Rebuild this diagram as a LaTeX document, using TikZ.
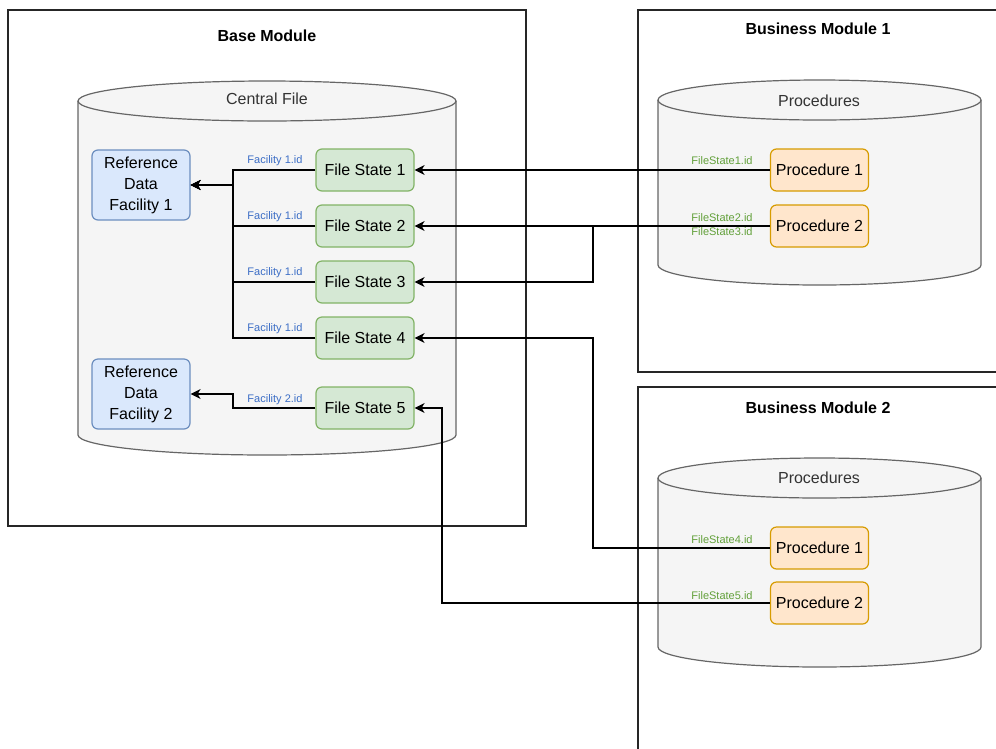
\documentclass[tikz,border=0pt]{standalone}
\usepackage{fontspec}
\setmainfont{Liberation Sans}
\usetikzlibrary{arrows.meta}
\definecolor{cylfill}{HTML}{F5F5F5}
\definecolor{cylline}{HTML}{666666}
\definecolor{bluefill}{HTML}{DAE8FC}
\definecolor{blueline}{HTML}{6C8EBF}
\definecolor{greenfill}{HTML}{D5E8D4}
\definecolor{greenline}{HTML}{82B366}
\definecolor{orangefill}{HTML}{FFE6CC}
\definecolor{orangeline}{HTML}{D79B00}
\definecolor{bluetxt}{HTML}{3C6EC6}
\definecolor{greentxt}{HTML}{62A03A}
\newcommand{\drawcyl}[5]{% x1 x2 ytop ybottom ry
  \pgfmathsetmacro{\cylrx}{(#2-#1)/2}
  \path[cyl] (#1,#3) arc[start angle=180,end angle=360,x radius=\cylrx,y radius=#5]
     -- (#2,#4) arc[start angle=0,end angle=180,x radius=\cylrx,y radius=#5] -- cycle;
  \draw[cylline,line width=1.2] (#1,#3) arc[start angle=180,end angle=0,x radius=\cylrx,y radius=#5];
}
\tikzset{
  module/.style={draw=black!85,line width=1.4,fill=white},
  cyl/.style={draw=cylline,fill=cylfill,line width=1.2},
  title/.style={font=\fontsize{16}{19}\selectfont\bfseries},
  cyltxt/.style={font=\fontsize{16}{19}\selectfont,text=black!80},
  basebox/.style={rounded corners=6,line width=1.2,minimum width=98,minimum height=42,
     inner sep=0,align=center,font=\fontsize{16}{21}\selectfont},
  refbox/.style={basebox,draw=blueline,fill=bluefill,minimum height=70},
  fsbox/.style={basebox,draw=greenline,fill=greenfill},
  procbox/.style={basebox,draw=orangeline,fill=orangefill},
  arr/.style={line width=1.4,-{Stealth[length=10,width=10,inset=3]}},
  flab/.style={font=\fontsize{11}{13}\selectfont,text=bluetxt,inner sep=0},
  glab/.style={font=\fontsize{11}{13}\selectfont,text=greentxt,inner sep=0},
}
\begin{document}
\begin{tikzpicture}[x=1pt,y=-1pt]
\useasboundingbox (0,0) rectangle (996,748);
\clip (0,0) rectangle (996,748);
\fill[white] (0,0) rectangle (996,748);
% modules
\draw[module] (8,10) rectangle (526,526);
\draw[module] (638,10) rectangle (1010,372);
\draw[module] (638,387) rectangle (1010,760);
\node[title] (tbase) at (267,36) {Base Module};
\node[title] (tbm1) at (818,29) {Business Module 1};
\node[title] (tbm2) at (818,408) {Business Module 2};
% cylinders
\drawcyl{78}{456}{101}{435}{20}
\drawcyl{658}{981}{100}{265}{20}
\drawcyl{658}{981}{478}{647}{20}
\node[cyltxt] (tcf) at (267,99) {Central File};
\node[cyltxt] (tp1) at (819,101) {Procedures};
\node[cyltxt] (tp2) at (819,478) {Procedures};
% nodes
\node[refbox] (rdf1) at (141,185) {Reference\\Data\\Facility 1};
\node[refbox] (rdf2) at (141,394) {Reference\\Data\\Facility 2};
\node[fsbox] (fs1) at (365,170) {File State 1};
\node[fsbox] (fs2) at (365,226) {File State 2};
\node[fsbox] (fs3) at (365,282) {File State 3};
\node[fsbox] (fs4) at (365,338) {File State 4};
\node[fsbox] (fs5) at (365,408) {File State 5};
\node[procbox] (p1) at (819.5,170) {Procedure 1};
\node[procbox] (p2) at (819.5,226) {Procedure 2};
\node[procbox] (q1) at (819.5,548) {Procedure 1};
\node[procbox] (q2) at (819.5,603) {Procedure 2};
% junctions
\coordinate (trunk1) at (233,185);
\coordinate (trunk2) at (233,394);
\coordinate (j1) at (593,250);
\coordinate (j2) at (593,440);
\coordinate (j3) at (442,500);
% edges to reference data
\draw[arr] (fs1.west) -| (trunk1) -- (rdf1.east);
\draw[arr] (fs2.west) -| (trunk1) -- (rdf1.east);
\draw[arr] (fs3.west) -| (trunk1) -- (rdf1.east);
\draw[arr] (fs4.west) -| (trunk1) -- (rdf1.east);
\draw[arr] (fs5.west) -| (trunk2) -- (rdf2.east);
\node[flab] (l1) at (275,161) {Facility 1.id};
\node[flab] (l2) at (275,217) {Facility 1.id};
\node[flab] (l3) at (275,273) {Facility 1.id};
\node[flab] (l4) at (275,329) {Facility 1.id};
\node[flab] (l5) at (275,400) {Facility 2.id};
% edges from procedures
\draw[arr] (p1.west) -- (fs1.east);
\draw[arr] (p2.west) -- (fs2.east);
\draw[arr] (p2.west) -| (j1) |- (fs3.east);
\draw[arr] (q1.west) -| (j2) |- (fs4.east);
\draw[arr] (q2.west) -| (j3) |- (fs5.east);
\node[glab] (g1) at (722,161) {FileState1.id};
\node[glab] (g2) at (722,218) {FileState2.id};
\node[glab] (g3) at (722,232) {FileState3.id};
\node[glab] (g4) at (722,540) {FileState4.id};
\node[glab] (g5) at (722,596) {FileState5.id};
\end{tikzpicture}
\end{document}
